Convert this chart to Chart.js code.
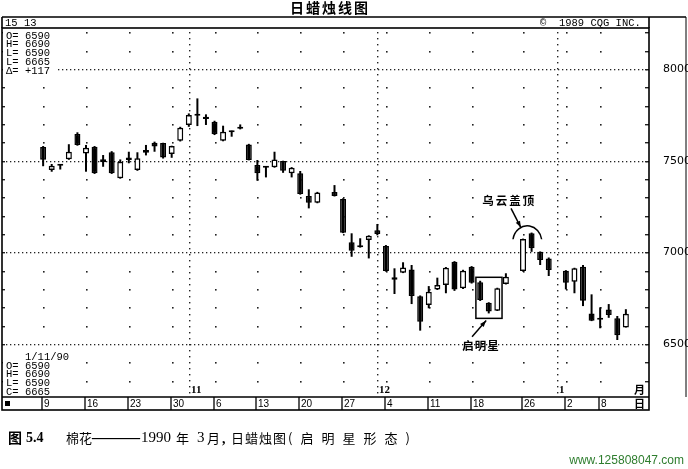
<!DOCTYPE html>
<html>
<head>
<meta charset="utf-8">
<title>日蜡烛线图</title>
<script src="https://cdn.jsdelivr.net/npm/chart.js@4.4.1/dist/chart.umd.min.js"></script>
<style>
  html, body { margin: 0; padding: 0; background: #fff; }
  canvas { display: block; }
</style>
</head>
<body>
<canvas id="chart" width="688" height="469"></canvas>
<script>
/* trading days Oct 9 1989 - Jan 11 1990, holidays kept as empty slots */
const days = [
  "10/9","10/10","10/11","10/12","10/13","10/16","10/17","10/18","10/19","10/20",
  "10/23","10/24","10/25","10/26","10/27","10/30","10/31","11/1","11/2","11/3",
  "11/6","11/7","11/8","11/9","11/10","11/13","11/14","11/15","11/16","11/17",
  "11/20","11/21","11/22","11/23","11/24","11/27","11/28","11/29","11/30","12/1",
  "12/4","12/5","12/6","12/7","12/8","12/11","12/12","12/13","12/14","12/15",
  "12/18","12/19","12/20","12/21","12/22","12/25","12/26","12/27","12/28","12/29",
  "1/1","1/2","1/3","1/4","1/5","1/8","1/9","1/10","1/11"
];

const open = [
  7575,7450,7473,7508,7646, 7540,7576,7508,7546,7404,
  7518,7449,7558,7598,7596, 7536,7609,7695,7745,7740,
  7713,7609,7655,7680,7589, 7476,7462,7464,7498,7431,
  7431,7307,7271,null,7330, 7291,7055,7028,7067,7120,
  7035,6864,6889,6907,6760, 6713,6798,6822,6949,6804,
  6922,6837,6725,6682,6827, null,6898,7104,7003,6967,
  null,6900,6840,6922,6667, 6640,6689,6640,6590
];
const high = [
  7580,7482,7480,7590,7655, 7586,7580,7531,7552,7507,
  7549,7546,7586,7604,7598, 7582,7685,7758,7840,7753,
  7718,7691,7664,7698,7592, 7504,7468,7549,7500,7465,
  7444,7344,7330,null,7367, 7295,7104,7077,7093,7155,
  7040,6913,6946,6931,6765, 6816,6862,6920,6952,6905,
  6925,6845,6728,6807,6886, null,7075,7108,7005,6972,
  null,6903,6916,6931,6771, 6700,6718,6653,6690
];
const low = [
  7470,7440,7452,7505,7582, 7440,7428,7467,7428,7402,
  7486,7445,7529,7549,7512, 7516,7605,7685,7689,7695,
  7640,7606,7631,7671,7502, 7391,7409,7462,7434,7409,
  7315,7240,7268,null,7305, 7105,6976,7026,6967,7093,
  6895,6773,6887,6718,6573, 6695,6795,6777,6790,6800,
  6830,6735,6667,6680,6825, null,6895,7003,6931,6871,
  null,6798,6777,6707,6625, 6586,6643,6522,6590
];
const close = [
  7505,7472,7478,7549,7586, 7571,7431,7492,7431,7494,
  7504,7513,7543,7578,7518, 7580,7680,7749,7752,7727,
  7644,7658,7660,7674,7504, 7431,7467,7507,7445,7462,
  7318,7271,7327,null,7307, 7107,7009,7033,7091,7100,
  6898,6850,6918,6762,6622, 6785,6822,6916,6798,6900,
  6834,6740,6677,6804,6867, null,7073,7022,6958,6904,
  null,6834,6913,6736,6627, 6632,6658,6548,6665
];

/* axis labels */
const weekTicks = [0,5,10,15,20,25,30,35,40,45,50,56,61,65];
const weekLabels = ["9","16","23","30","6","13","20","27","4","11","18","26","2","8"];
const monthTicks = [17,39,60];
const monthLabels = ["11","12","1"];
const priceLabels = [6500,7000,7500,8000];

const CJK = "'Noto Sans CJK SC', sans-serif";
const MONO = "'Liberation Mono', monospace";

/* build candle pieces */
const bodies = [], wicks = [], bodyColors = [];
days.forEach((d, i) => {
  if (open[i] == null) return;
  bodies.push({ x: i, y: [Math.min(open[i], close[i]), Math.max(open[i], close[i])] });
  wicks.push({ x: i, y: [low[i], high[i]] });
  bodyColors.push(close[i] > open[i] ? "#fff" : "#000");
});

function txt(ctx, s, x, y, font, align, spacing) {
  ctx.font = font;
  ctx.textAlign = align || "left";
  ctx.textBaseline = "middle";
  ctx.letterSpacing = (spacing || 0) + "px";
  ctx.fillText(s, x, y);
  ctx.letterSpacing = "0px";
}

function arrow(ctx, x1, y1, x2, y2) {
  const a = Math.atan2(y2 - y1, x2 - x1);
  ctx.beginPath();
  ctx.moveTo(x1, y1);
  ctx.lineTo(x2, y2);
  ctx.stroke();
  ctx.beginPath();
  ctx.moveTo(x2, y2);
  ctx.lineTo(x2 - 7 * Math.cos(a - 0.35), y2 - 7 * Math.sin(a - 0.35));
  ctx.lineTo(x2 - 7 * Math.cos(a + 0.35), y2 - 7 * Math.sin(a + 0.35));
  ctx.closePath();
  ctx.fill();
}

/* dotted grid under the candles */
const dotGrid = {
  id: "dotGrid",
  beforeDatasetsDraw(chart) {
    const { ctx, chartArea: a, scales: { x, y } } = chart;
    ctx.save();
    ctx.fillStyle = "#222";
    for (let lv = 6300; lv <= 8200; lv += 100) {
      const yy = Math.round(y.getPixelForValue(lv));
      if (lv % 500 === 0) {
        for (let xx = a.left + 4; xx < a.right - 2; xx += 4) ctx.fillRect(xx, yy, 1.3, 1.3);
      } else {
        weekTicks.forEach(i => ctx.fillRect(Math.round(x.getPixelForValue(i)), yy, 1.6, 1.6));
      }
      // small ticks on both sides
      ctx.fillRect(a.right - 4, yy, 4, 1.4);
      ctx.fillRect(a.left, yy, 3, 1.4);
    }
    monthTicks.forEach(i => {
      const xx = Math.round(x.getPixelForValue(i));
      for (let yy = a.top + 4; yy < a.bottom - 2; yy += 6) ctx.fillRect(xx, yy, 1.4, 1.4);
    });
    ctx.restore();
  }
};

/* frame, texts and notes */
const decor = {
  id: "decor",
  afterDraw(chart) {
    const { ctx, chartArea: a, scales: { x, y } } = chart;
    const px = v => x.getPixelForValue(v);
    const py = v => y.getPixelForValue(v);
    const stripB = a.bottom + 13;
    ctx.save();
    ctx.fillStyle = "#000";
    ctx.strokeStyle = "#000";

    // info boxes (white behind the text)
    ctx.fillStyle = "#fff";
    ctx.fillRect(a.left + 1, a.top + 1, 54, 47);
    ctx.fillRect(a.left + 1, a.bottom - 46, 70, 45);
    ctx.fillStyle = "#000";
    ["O= 6590", "H= 6690", "L= 6590", "L= 6665", "\u0394= +117"].forEach((s, k) =>
      txt(ctx, s, a.left + 4, a.top + 8 + k * 8.7, "10.5px " + MONO));
    txt(ctx, "1/11/90", 25, a.bottom - 40, "10.5px " + MONO);
    ["O= 6590", "H= 6690", "L= 6590", "C= 6665"].forEach((s, k) =>
      txt(ctx, s, a.left + 4, a.bottom - 31 + k * 8.7, "10.5px " + MONO));

    // frame lines
    ctx.lineWidth = 1.6;
    ctx.strokeRect(a.left, a.top, a.right - a.left, stripB - a.top);
    ctx.beginPath();
    ctx.moveTo(a.left, a.bottom); ctx.lineTo(a.right, a.bottom);
    ctx.moveTo(a.left, 17); ctx.lineTo(686, 17);
    ctx.moveTo(a.left, 17); ctx.lineTo(a.left, a.top);
    ctx.moveTo(a.right, 17); ctx.lineTo(a.right, a.top);
    ctx.stroke();
    ctx.lineWidth = 1;
    ctx.beginPath();
    ctx.moveTo(686, 17); ctx.lineTo(686, a.bottom);
    ctx.stroke();

    // header
    txt(ctx, "\u65e5\u8721\u70db\u7ebf\u56fe", 330, 8, "bold 14px " + CJK, "center", 2);
    txt(ctx, "15 13", a.left + 3, 23, "10.5px " + MONO);
    txt(ctx, "\u00a9  1989 CQG INC.", 540, 23, "10.5px " + MONO);

    // date strip
    ctx.lineWidth = 1.3;
    ctx.fillRect(5, a.bottom + 4, 5, 5);
    weekTicks.forEach((i, k) => {
      const xx = Math.round(px(i)) - 1;
      ctx.beginPath(); ctx.moveTo(xx, a.bottom); ctx.lineTo(xx, stripB); ctx.stroke();
      txt(ctx, weekLabels[k], xx + 2, a.bottom + 7, "10px 'Liberation Sans', sans-serif");
    });
    monthTicks.forEach((i, k) => {
      txt(ctx, monthLabels[k], Math.round(px(i)) + 2, a.bottom - 7, "bold 11px 'Liberation Serif', serif");
    });
    txt(ctx, "\u6708", 634, a.bottom - 7, "bold 11px " + CJK);
    txt(ctx, "\u65e5", 634, a.bottom + 7, "bold 11px " + CJK);

    // morning star box
    ctx.lineWidth = 1.5;
    const bx1 = px(50.5), bx2 = px(53.55), by1 = py(6864), by2 = py(6640);
    ctx.strokeRect(bx1, by1, bx2 - bx1, by2 - by1);
    arrow(ctx, px(50.05), py(6540), px(51.7), py(6628));
    txt(ctx, "\u542f\u660e\u661f", px(51.1), py(6489), "bold 11.5px " + CJK, "center", 1);

    // dark cloud cover
    txt(ctx, "\u4e4c\u4e91\u76d6\u9876", px(54.4), py(7285), "bold 11.5px " + CJK, "center", 2);
    arrow(ctx, px(54.6), py(7240), px(55.75), py(7135));
    ctx.beginPath();
    ctx.ellipse(px(56.5), py(7058), 14.5, 16, 0, Math.PI * 1.05, Math.PI * 1.95);
    ctx.stroke();

    // caption
    const cy = 438;
    txt(ctx, "\u56fe", 8, cy, "bold 14px " + CJK);
    txt(ctx, "5.4", 26, cy, "bold 14px 'Liberation Serif', serif");
    txt(ctx, "\u68c9\u82b1", 66, cy, "13px " + CJK);
    txt(ctx, "\u2014\u2014", 92, cy, "24px 'Liberation Serif', serif");
    txt(ctx, "1990", 141, cy, "15px 'Liberation Serif', serif");
    txt(ctx, "\u5e74", 176, cy, "13px " + CJK);
    txt(ctx, "3", 197, cy, "15px 'Liberation Serif', serif");
    txt(ctx, "\u6708", 207, cy, "13px " + CJK);
    txt(ctx, ",", 222, cy + 1, "bold 14px 'Liberation Serif', serif");
    txt(ctx, "\u65e5\u8721\u70db\u56fe", 231, cy, "13px " + CJK, "left", 1);
    txt(ctx, "(\u542f\u660e\u661f\u5f62\u6001)", 288, cy, "13px " + CJK, "left", 8);

    // watermark
    ctx.fillStyle = "#2e7d2e";
    txt(ctx, "www.125808047.com", 684, 461, "12px 'Liberation Sans', Arial, sans-serif", "right");
    ctx.restore();
  }
};

new Chart(document.getElementById("chart"), {
  type: "bar",
  data: {
    datasets: [
      {
        label: "body",
        data: bodies,
        backgroundColor: bodyColors,
        borderColor: "#000",
        borderWidth: 1.5,
        borderSkipped: false,
        grouped: false,
        maxBarThickness: 6,
        minBarLength: 2
      },
      {
        label: "wick",
        data: wicks,
        backgroundColor: "#000",
        borderWidth: 0,
        grouped: false,
        maxBarThickness: 2
      }
    ]
  },
  options: {
    responsive: false,
    animation: false,
    devicePixelRatio: 1,
    layout: { padding: { left: 2, top: 28, right: 0, bottom: 72 } },
    plugins: { legend: { display: false }, tooltip: { enabled: false } },
    scales: {
      x: { type: "linear", offset: false, min: -4.8, max: 70.7, display: false },
      y: {
        position: "right",
        min: 6211,
        max: 8224,
        afterBuildTicks: s => { s.ticks = priceLabels.map(v => ({ value: v })); },
        afterFit: s => { s.width = 39; },
        grid: { display: false },
        border: { display: false },
        ticks: {
          padding: 6,
          color: "#000",
          font: { family: "'DejaVu Sans', sans-serif", size: 11 },
          callback: v => String(v)
        }
      }
    }
  },
  plugins: [dotGrid, decor]
});
</script>
</body>
</html>
